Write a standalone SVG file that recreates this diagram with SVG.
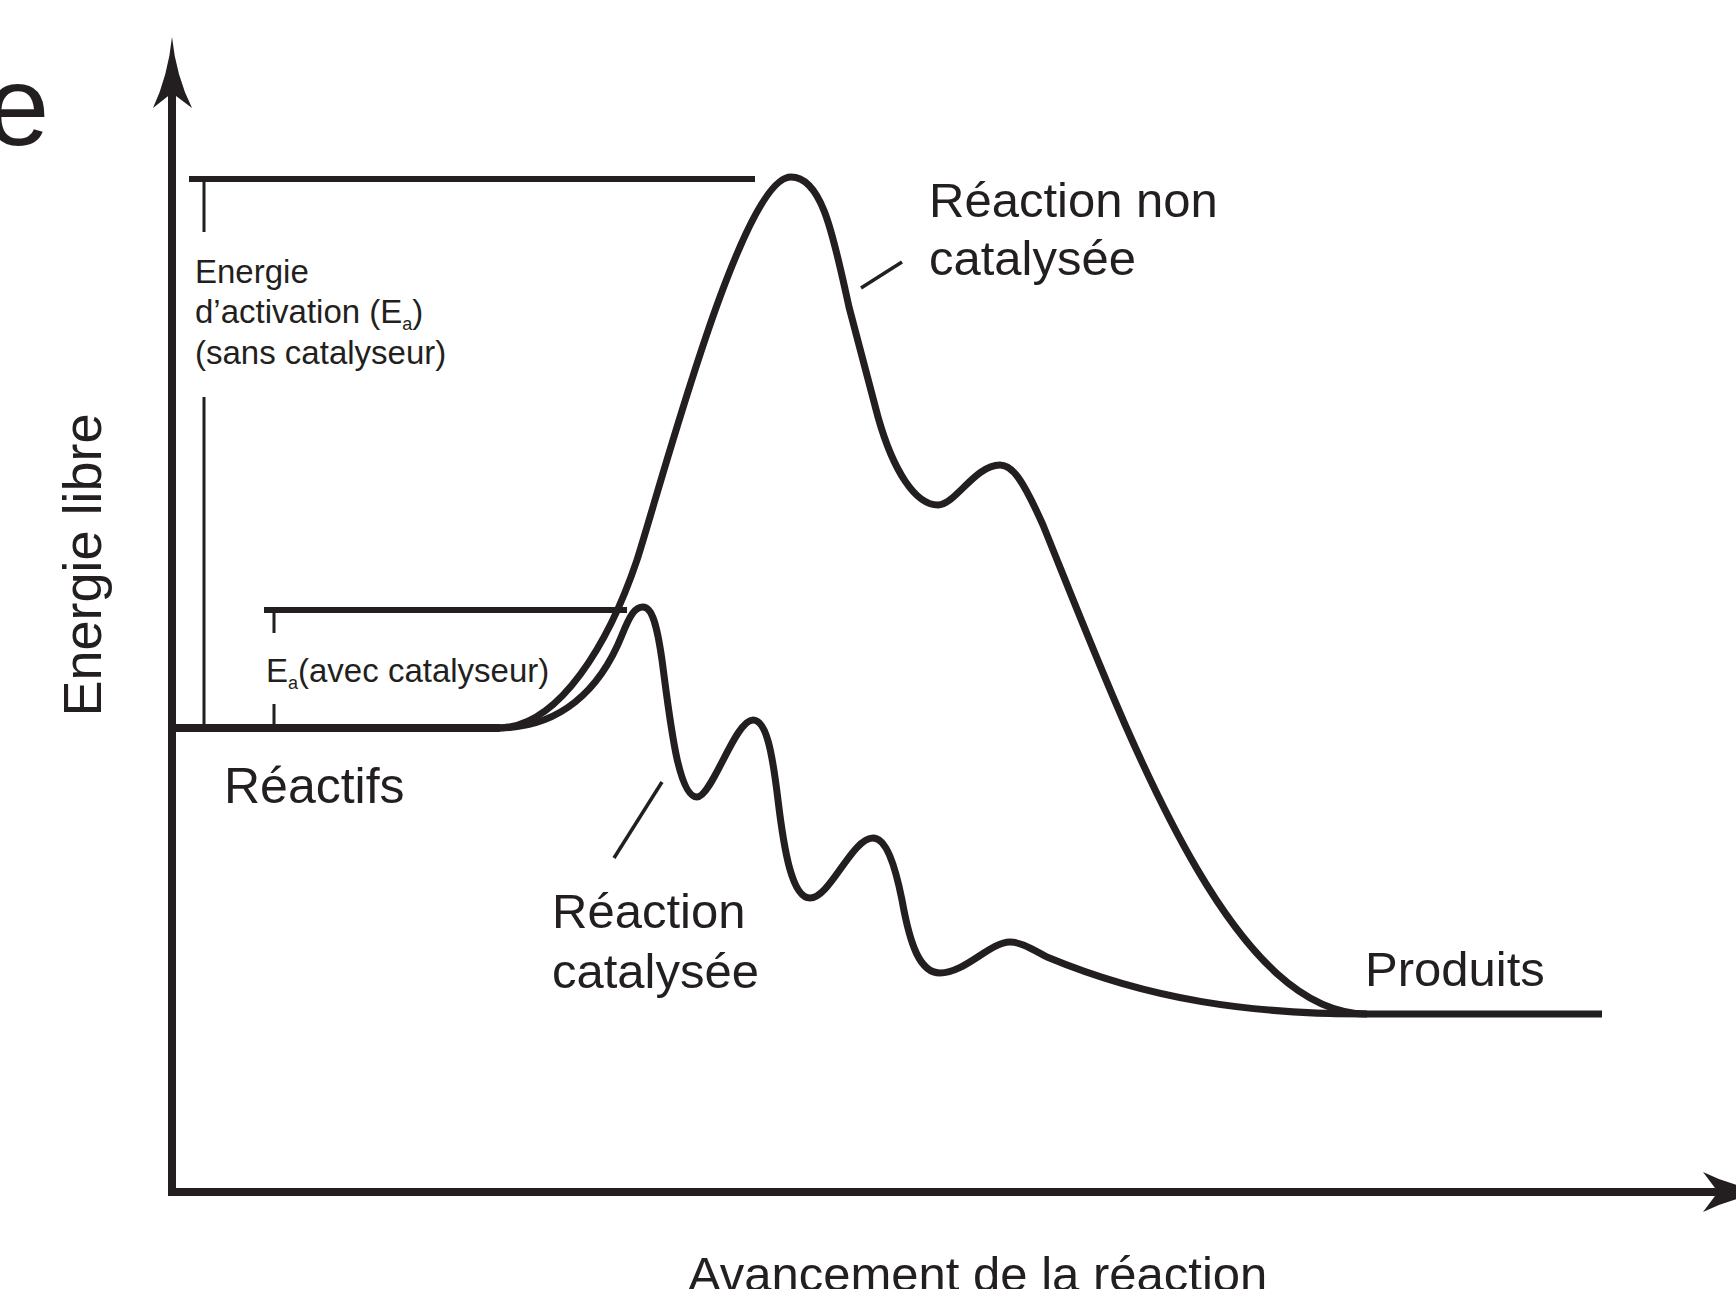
<svg xmlns="http://www.w3.org/2000/svg" width="1736" height="1289" viewBox="0 0 1736 1289">
<style>
  .ink{stroke:#231f20;fill:none;stroke-linecap:butt;stroke-linejoin:round}
  .axis{stroke-width:8}
  .curve{stroke-width:7}
  .ref{stroke-width:6}
  .tick{stroke-width:3}
  .ptr{stroke-width:3.5}
  .head{fill:#231f20;stroke:none}
  text{font-family:"Liberation Sans",Arial,sans-serif;fill:#231f20}
  .lbl{font-size:49px}
  .small{font-size:33px}
  .sub{font-size:18px}
</style>
<rect width="1736" height="1289" fill="#ffffff"/>

<g id="axes">
  <path class="ink axis" d="M172,1192 V90"/>
  <path class="head" d="M172,37 Q176,76 192,108 L172,93 L153,108 Q168,76 172,37 Z"/>
  <path class="ink axis" d="M168,1192 H1725"/>
  <path class="head" d="M1774,1192 Q1735,1196 1703,1212 L1718,1192 L1703,1172 Q1735,1188 1774,1192 Z"/>
</g>

<g id="reference-lines">
  <path class="ink ref" d="M189,179 H755"/>
  <path class="ink tick" d="M204,179 V232 M204,397 V728"/>
  <path class="ink ref" d="M264,610 H627"/>
  <path class="ink tick" d="M274,610 V633 M274,704 V728"/>
</g>

<g id="connectors">
  <path id="reactifs-line" class="ink axis" d="M172,728 H500"/>
  <path id="non-catalysee-curve" class="ink curve" d="M498,728 C560,728 610,640 637,560 C662,482 742,177 791,177 C823,177 834,240 849,307 L878,417 C893,470 915,505 938,505 C955,505 975,465 1000,465 C1012,465 1022,478 1043,525 C1130,740 1230,1014 1367,1014 H1602"/>
  <path id="catalysee-curve" class="ink curve" d="M498,728 C560,728 600,690 622,635 C630,615 635,607 643,607 C652,607 657,625 662,660 C670,720 678,797 697,797 C712,797 735,720 753,720 C766,720 772,750 778,800 C784,850 792,898 810,898 C830,898 852,838 873,838 C886,838 895,865 902,900 C910,945 920,973 940,973 C965,973 990,942 1010,942 C1020,942 1030,948 1047,957 C1150,1000 1250,1014 1367,1014"/>
  <path id="ptr-non-catalysee" class="ink ptr" d="M861,288 L902,262"/>
  <path id="ptr-catalysee" class="ink ptr" d="M662,782 L614,858"/>
</g>

<g id="label-e">
  <text x="-14" y="145" style="font-size:114px">e</text>
</g>
<g id="label-energie-libre">
  <text transform="translate(101,565) rotate(-90)" text-anchor="middle" style="font-size:54px">Energie libre</text>
</g>
<g id="label-ea-sans">
  <text class="small" x="195" y="283">Energie</text>
  <text class="small" x="195" y="323">d’activation (E<tspan class="sub" dy="7">a</tspan><tspan dy="-7">)</tspan></text>
  <text class="small" x="195" y="364">(sans catalyseur)</text>
</g>
<g id="label-ea-avec">
  <text class="small" x="266" y="682">E<tspan class="sub" dy="7">a</tspan><tspan dy="-7">(avec catalyseur)</tspan></text>
</g>
<g id="label-reactifs">
  <text x="224" y="803" style="font-size:50px">Réactifs</text>
</g>
<g id="label-non-catalysee">
  <text class="lbl" x="929" y="217">Réaction non</text>
  <text class="lbl" x="929" y="275">catalysée</text>
</g>
<g id="label-catalysee">
  <text class="lbl" x="552" y="928">Réaction</text>
  <text class="lbl" x="552" y="988">catalysée</text>
</g>
<g id="label-produits">
  <text class="lbl" x="1365" y="986">Produits</text>
</g>
<g id="label-avancement">
  <text x="688" y="1291" style="font-size:49px">Avancement de la réaction</text>
</g>
</svg>
